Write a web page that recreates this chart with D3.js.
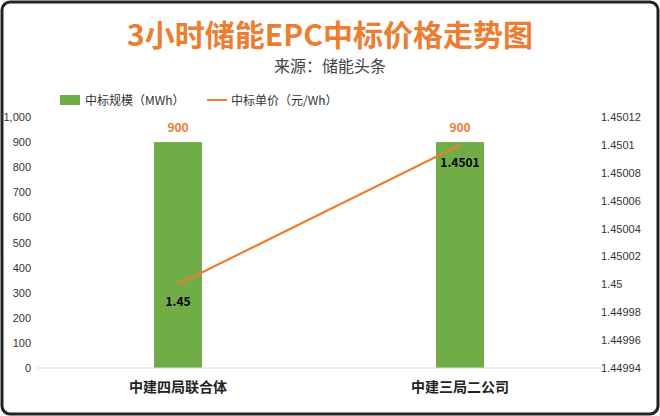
<!DOCTYPE html>
<html><head><meta charset="utf-8">
<script src="https://cdn.jsdelivr.net/npm/d3@7"></script>
<style>body{margin:0;background:#fff;font-family:"Noto Sans CJK SC","Noto Sans",sans-serif}</style>
</head><body><svg id="c" width="660" height="416"></svg>
<script>
const categories = ["中建四局联合体","中建三局二公司"];
const scale = [900,900];
const price = [1.45,1.4501];
const leftTicks = [0,100,200,300,400,500,600,700,800,900,1000];
const rightTicks = [1.44994,1.44996,1.44998,1.45,1.45002,1.45004,1.45006,1.45008,1.4501,1.45012];
const svg = d3.select("#c");
const font = '"Noto Sans CJK SC",sans-serif';
svg.append("rect").attr("x",2).attr("y",2).attr("width",656).attr("height",412).attr("rx",8)
  .attr("fill","#fff").attr("stroke","#222").attr("stroke-width",3);
svg.append("text").attr("x",330).attr("y",46).attr("text-anchor","middle").attr("fill","#ed7d31")
  .attr("font-size",30).attr("font-weight","bold").attr("font-family",font).text("3小时储能EPC中标价格走势图");
svg.append("text").attr("x",330).attr("y",72).attr("text-anchor","middle").attr("fill","#444")
  .attr("font-size",16).attr("font-family",font).text("来源：储能头条");
const x = d3.scaleBand().domain(categories).range([37,601]);
const yL = d3.scaleLinear().domain([0,1000]).range([368,117]);
const yR = d3.scaleLinear().domain([1.44994,1.45012]).range([368,117]);
const bw = 48;
svg.selectAll(".bar").data(categories).join("rect")
  .attr("x",d=>x(d)+x.bandwidth()/2-bw/2).attr("y",(d,i)=>yL(scale[i]))
  .attr("width",bw).attr("height",(d,i)=>yL(0)-yL(scale[i])).attr("fill","#70ad47");
svg.selectAll(".bl").data(categories).join("text")
  .attr("x",d=>x(d)+x.bandwidth()/2).attr("y",(d,i)=>yL(scale[i])-10).attr("text-anchor","middle")
  .attr("fill","#ed7d31").attr("font-size",12).attr("font-weight","bold").attr("font-family",font)
  .text((d,i)=>scale[i]);
const line = d3.line().x((d,i)=>x(categories[i])+x.bandwidth()/2).y(d=>yR(d));
svg.append("path").datum(price).attr("d",line).attr("fill","none").attr("stroke","#ed7d31").attr("stroke-width",2.2);
svg.selectAll(".pl").data(price).join("text")
  .attr("x",(d,i)=>x(categories[i])+x.bandwidth()/2).attr("y",(d,i)=>yR(d)+(i==0?22:22))
  .attr("text-anchor","middle").attr("fill","#000").attr("font-size",12).attr("font-weight","bold").attr("font-family",font)
  .text(d=>d);
const gl = svg.append("g").attr("transform","translate(37,0)")
  .call(d3.axisLeft(yL).tickValues(leftTicks).tickSize(0).tickPadding(6));
const gr = svg.append("g").attr("transform","translate(595,0)")
  .call(d3.axisRight(yR).tickValues(rightTicks).tickSize(0).tickPadding(6).tickFormat(d=>+d.toFixed(5)));
[gl,gr].forEach(g=>{g.select(".domain").remove();g.selectAll("text").attr("font-size",11).attr("fill","#333").attr("font-family","Liberation Sans,sans-serif");});
svg.append("line").attr("x1",37).attr("x2",601).attr("y1",368).attr("y2",368).attr("stroke","#d9d9d9");
const gx = svg.append("g").attr("transform","translate(0,368)").call(d3.axisBottom(x).tickSize(0).tickPadding(14));
gx.select(".domain").remove();
gx.selectAll("text").attr("font-size",14).attr("font-weight","bold").attr("fill","#222").attr("font-family",font);
const lg = svg.append("g").attr("font-family",font).attr("font-size",12).attr("fill","#333");
lg.append("rect").attr("x",60).attr("y",95).attr("width",20).attr("height",10).attr("fill","#70ad47");
lg.append("text").attr("x",85).attr("y",104.5).text("中标规模（MWh）");
lg.append("line").attr("x1",207).attr("x2",227).attr("y1",100).attr("y2",100).attr("stroke","#ed7d31").attr("stroke-width",2);
lg.append("text").attr("x",231).attr("y",104.5).text("中标单价（元/Wh）");
</script></body></html>
